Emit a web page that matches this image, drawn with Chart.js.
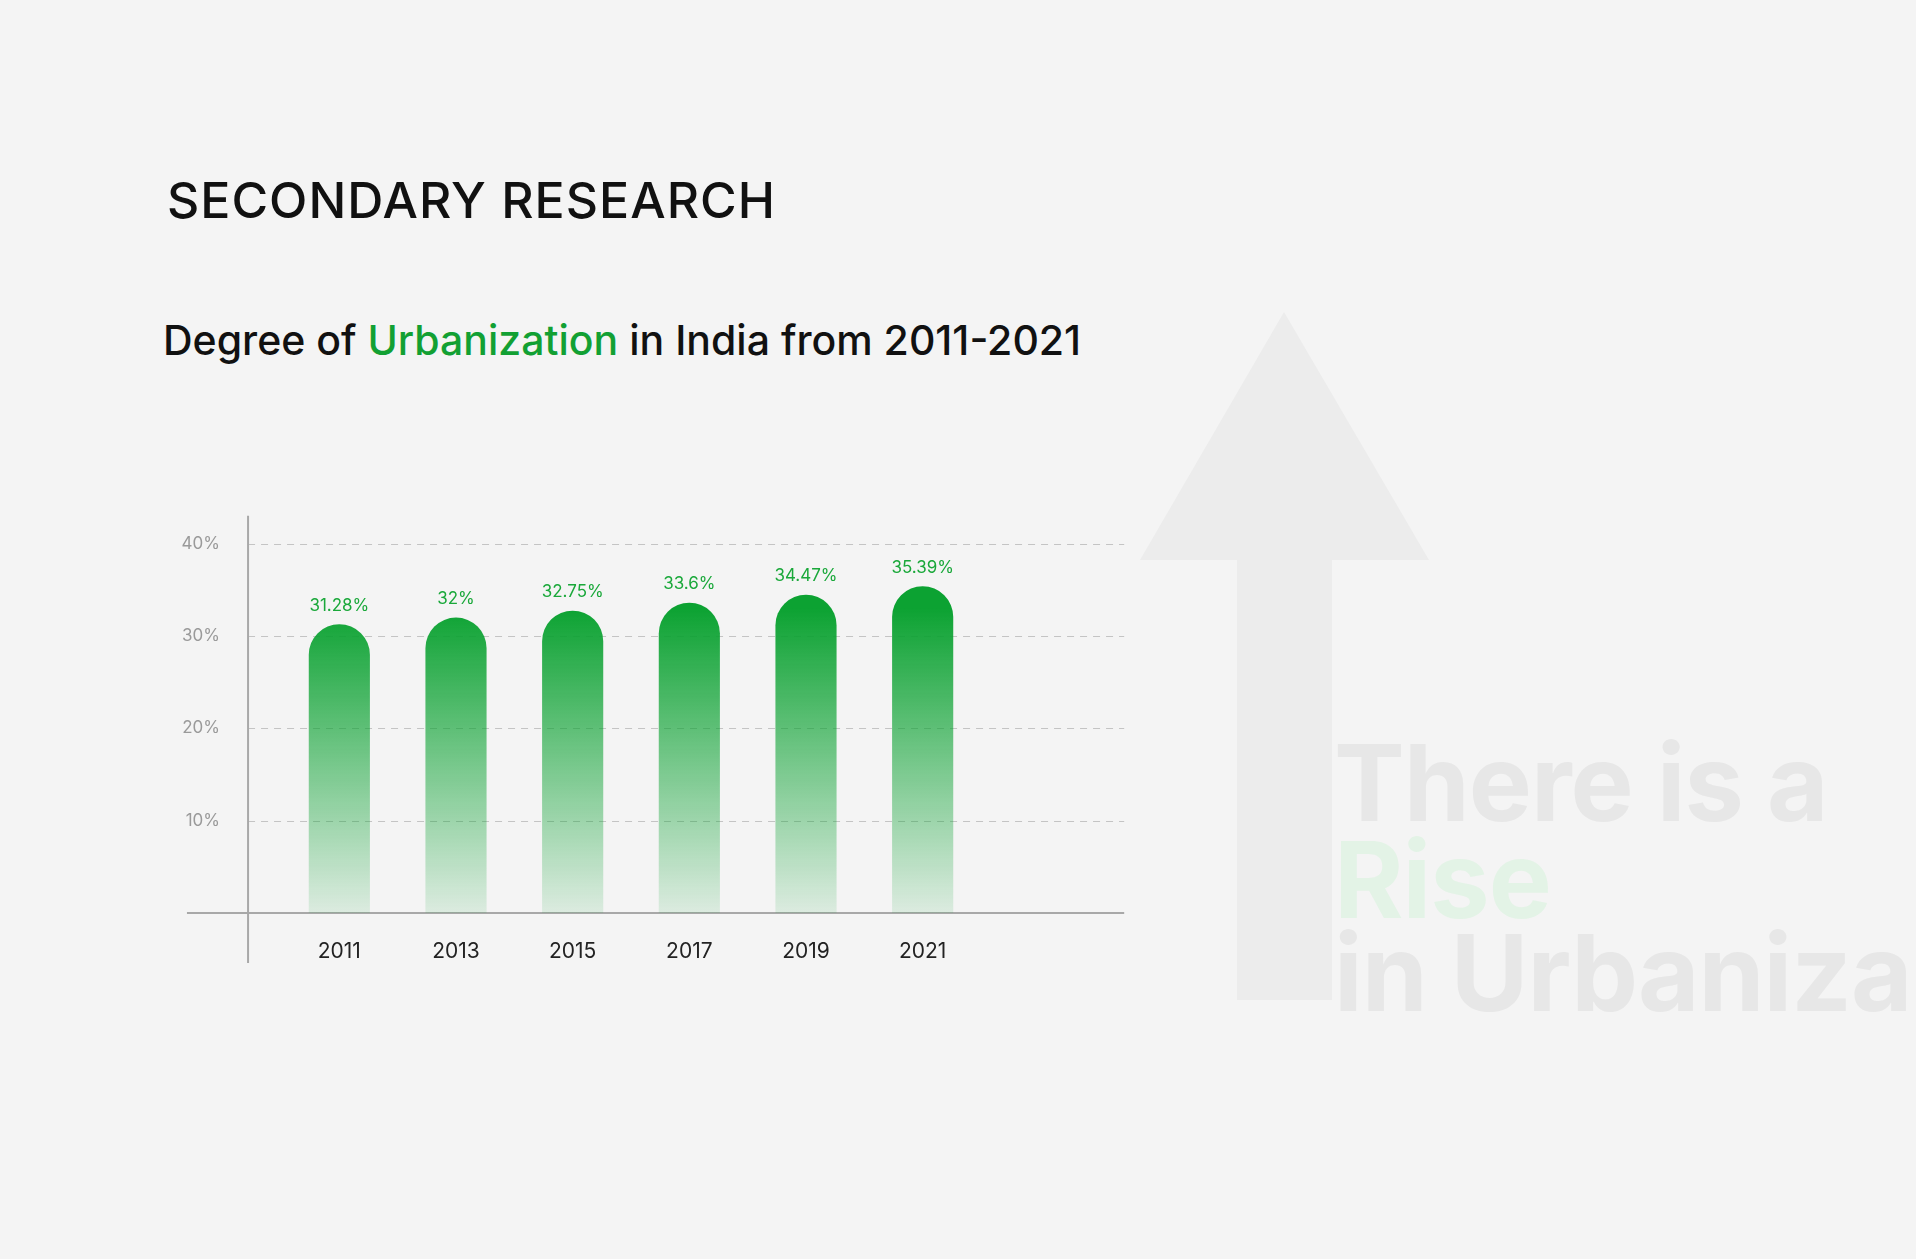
<!DOCTYPE html>
<html><head><meta charset="utf-8">
<script src="https://cdn.jsdelivr.net/npm/chart.js@4"></script>
<style>
html,body{margin:0;padding:0;width:1916px;height:1259px;overflow:hidden;background:#f4f4f4;font-family:Inter,"Noto Sans",sans-serif}
#deco{position:absolute;left:0;top:0;width:1916px;height:1259px;overflow:hidden}
.big{position:absolute;left:1334px;font-weight:700;font-size:106px;line-height:1;color:#e7e7e7;white-space:nowrap;letter-spacing:-1px}
h1{position:absolute;left:167px;top:170px;margin:0;font-weight:500;font-size:50px;color:#111;letter-spacing:1px}
h2{position:absolute;left:163px;top:315px;margin:0;font-weight:500;font-size:41px;color:#111}
h2 span{color:#12a033}
#c{position:absolute;left:0;top:0}
</style></head><body>
<div id="deco">
<svg width="1916" height="1259" style="position:absolute;left:0;top:0">
<polygon points="1284,312 1429,560 1332,560 1332,1000 1237,1000 1237,560 1140,560" fill="#ececec"/>
</svg>
<div class="big" style="top:730px">There is a</div>
<div class="big" style="top:827px;color:#e3f3e6">Rise</div>
<div class="big" style="top:920px">in Urbaniza</div>
</div>
<h1>SECONDARY RESEARCH</h1>
<h2>Degree of <span>Urbanization</span> in India from 2011-2021</h2>
<canvas id="c" width="1916" height="1259"></canvas>
<script>
const years=["2011","2013","2015","2017","2019","2021"];
const urbanization=[31.28,32,32.75,33.6,34.47,35.39];
const yTicks=[10,20,30,40];
const S=1916/1568;
const deco={id:'deco',
 beforeDatasetsDraw(ch){const c=ch.ctx,y=ch.scales.y;c.save();
  c.strokeStyle='#c4c4c4';c.lineWidth=1.2;c.setLineDash([7,6]);
  yTicks.forEach(v=>{const p=Math.round(y.getPixelForValue(v))+.5;c.beginPath();c.moveTo(203*S,p);c.lineTo(920*S,p);c.stroke();});
  c.setLineDash([]);c.strokeStyle='#a8a8a8';c.lineWidth=2;
  const z=y.getPixelForValue(0);
  c.beginPath();c.moveTo(153*S,z);c.lineTo(920*S,z);c.stroke();
  c.beginPath();c.moveTo(203*S,422*S);c.lineTo(203*S,788*S);c.stroke();c.restore();},
 afterDatasetsDraw(ch){const c=ch.ctx,m=ch.getDatasetMeta(0);c.save();
  c.fillStyle='#1aa83a';c.font='17px Inter';c.textAlign='center';c.textBaseline='bottom';
  m.data.forEach((b,i)=>c.fillText(urbanization[i]+'%',b.x,b.y-10));c.restore();}};
new Chart(document.getElementById('c'),{type:'bar',
 data:{labels:years,datasets:[{data:urbanization,
  backgroundColor(ctx){const a=ctx.chart.chartArea;if(!a)return '#0ca232';const y=ctx.chart.scales.y;
   const g=ctx.chart.ctx.createLinearGradient(0,y.getPixelForValue(33),0,y.getPixelForValue(0));
   g.addColorStop(0,'#0ca232');g.addColorStop(1,'rgba(12,162,50,0.1)');return g;},
  borderRadius:{topLeft:40,topRight:40},borderSkipped:'bottom',
  barPercentage:0.524,categoryPercentage:1}]},
 options:{responsive:false,animation:false,events:[],
  layout:{padding:{left:0,top:516,right:935,bottom:0}},
  plugins:{legend:{display:false},tooltip:{enabled:false}},
  scales:{
   y:{min:0,max:43,afterFit(s){s.width=281},afterBuildTicks(s){s.ticks=yTicks.map(v=>({value:v}))},
    grid:{display:false},border:{display:false},
    ticks:{padding:53,color:'#9a9a9a',font:{size:17,family:'Inter'},callback:v=>v+'%'}},
   x:{afterFit(s){s.height=346},grid:{display:false},border:{display:false},
    ticks:{padding:18,color:'#222',font:{size:21,family:'Inter'}}}}},
 plugins:[deco]});
</script></body></html>
